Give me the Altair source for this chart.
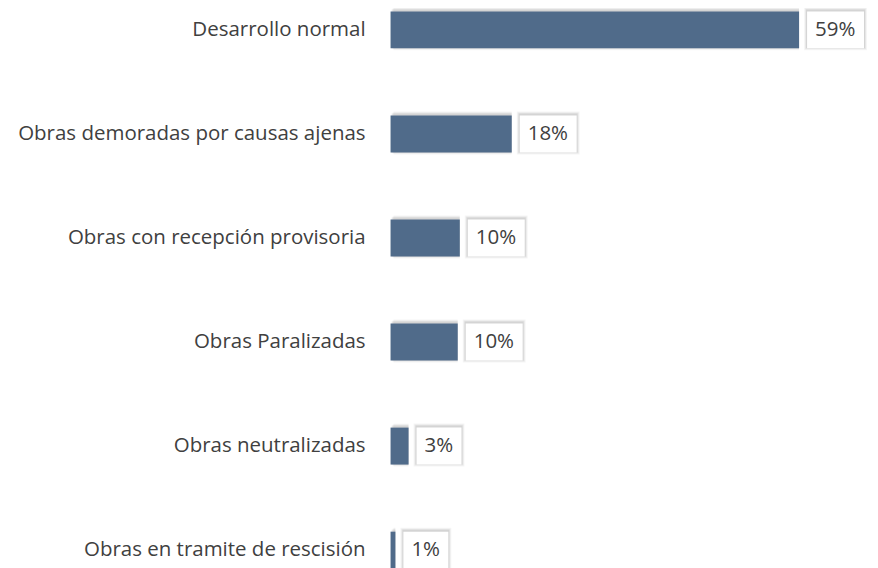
import altair as alt
import pandas as pd

categories = [
    "Desarrollo normal",
    "Obras demoradas por causas ajenas",
    "Obras con recepción provisoria",
    "Obras Paralizadas",
    "Obras neutralizadas",
    "Obras en tramite de rescisión",
]
values = [59.0, 17.5, 10.0, 9.7, 2.6, 0.7]
labels = ["59%", "18%", "10%", "10%", "3%", "1%"]

df = pd.DataFrame({"cat": categories, "val": values, "lab": labels})
df["n"] = df["lab"].str.len()

FONT = "Open Sans"
BAR = "#506B8A"
FS = 20.5

y = alt.Y(
    "cat:N",
    sort=categories,
    title=None,
    scale=alt.Scale(paddingInner=0.646, paddingOuter=0.03),
    axis=None,
)
x = alt.X("val:Q", title=None, scale=alt.Scale(domain=[0, 67.8]), axis=None)

base = alt.Chart(df)

layers = []
# soft shadow around bars
for sz, op, xo in [(43, 0.04, 3), (41, 0.06, 2), (39, 0.08, 1)]:
    layers.append(
        base.mark_bar(color="#000000", opacity=op, size=sz, yOffset=-1, x2Offset=xo)
        .encode(x=x, x2=alt.datum(0), y=y)
    )
layers.append(base.mark_bar(color=BAR, size=37).encode(x=x, y=y))

# label boxes with soft shadow
for n, w in [(3, 57), (2, 45)]:
    sub = base.transform_filter(f"datum.n == {n}")
    for sz, op, e in [(43, 0.04, 3), (41, 0.06, 2), (39, 0.08, 1)]:
        layers.append(
            sub.mark_bar(color="#000000", opacity=op, size=sz, yOffset=-1,
                         xOffset=8 - e, x2Offset=8 + w + e)
            .encode(x=x, x2=alt.X2("val:Q"), y=y)
        )
    layers.append(
        sub.mark_bar(color="#ffffff", size=37, xOffset=8, x2Offset=8 + w)
        .encode(x=x, x2=alt.X2("val:Q"), y=y)
    )

# value labels
layers.append(
    base.mark_text(
        align="left", baseline="middle", dx=16, font=FONT, fontSize=FS, color="#404040"
    ).encode(x=x, y=y, text="lab:N")
)
# category labels
layers.append(
    base.mark_text(
        align="right", baseline="middle", font=FONT, fontSize=FS, color="#404040"
    ).encode(x=alt.value(-25), y=y, text="cat:N")
)

chart = alt.layer(*layers).properties(
    width=470,
    height=564,
    background="#ffffff",
    autosize=alt.AutoSizeParams(type="none"),
    padding={"left": 383, "top": 0, "right": 10, "bottom": 0},
).configure_view(strokeWidth=0)

chart.save("out.html", embed_options={"renderer": "svg", "actions": False})
